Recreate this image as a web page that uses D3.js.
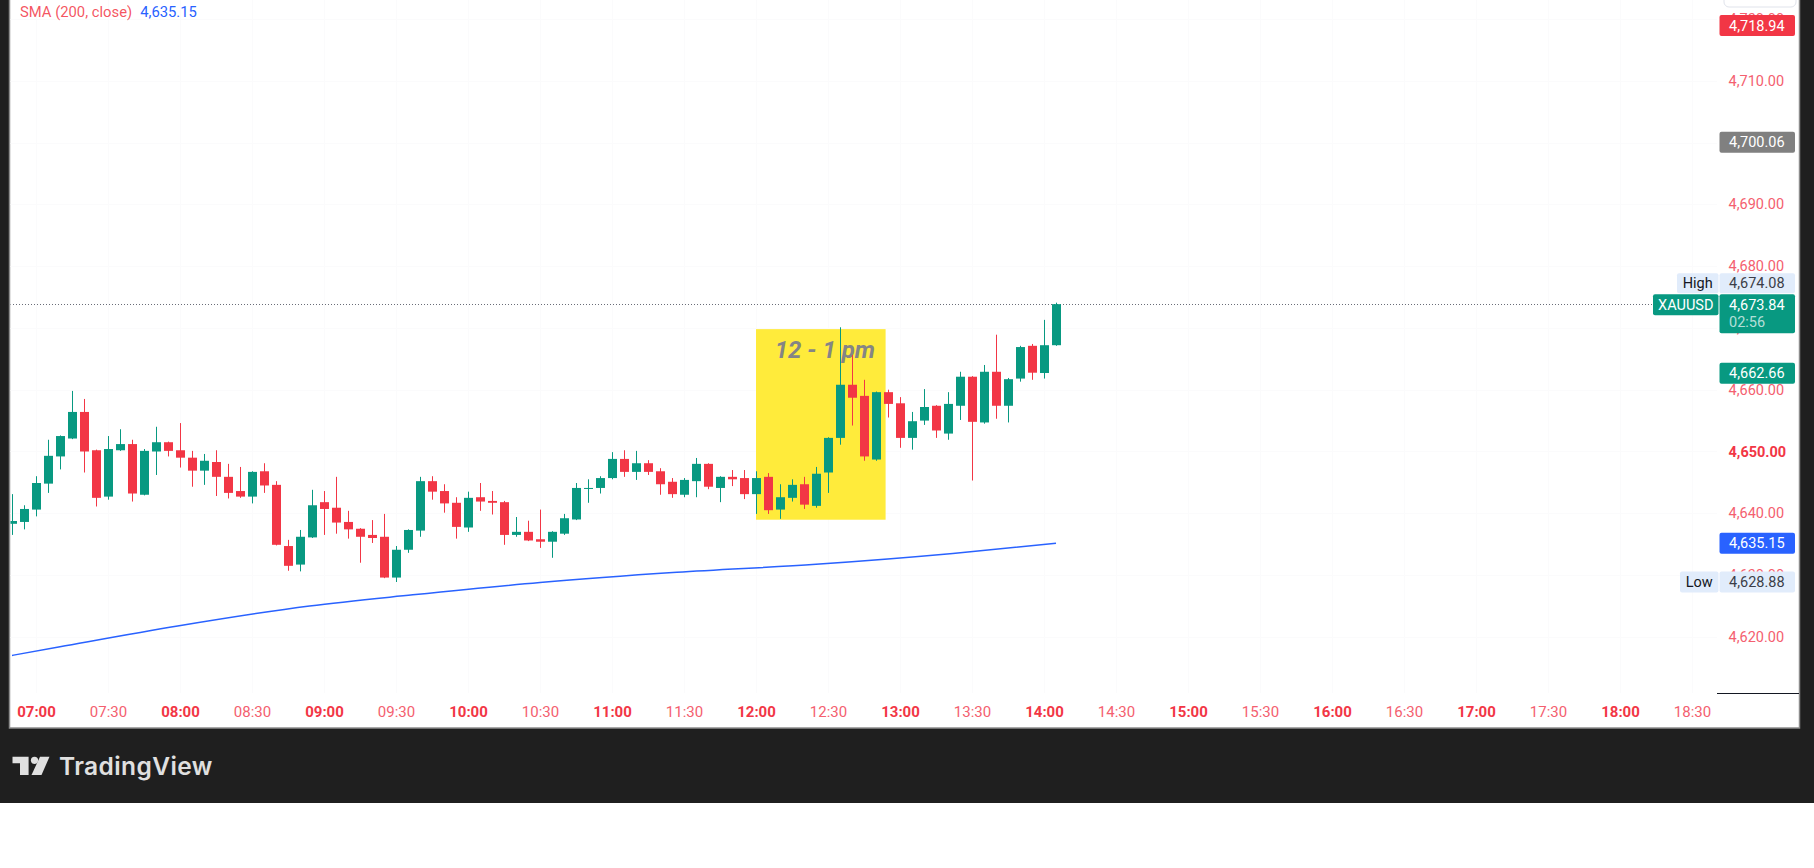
<!DOCTYPE html>
<html>
<head>
<meta charset="utf-8">
<script src="https://cdn.jsdelivr.net/npm/d3@7"></script>
<style>
  html, body { margin: 0; padding: 0; background: #ffffff; }
  svg { display: block; }
</style>
</head>
<body>
<div id="chart"></div>
<script>
// 5 minute XAUUSD candles
var times = ["06:50","06:55","07:00","07:05","07:10","07:15","07:20","07:25","07:30","07:35","07:40","07:45",
  "07:50","07:55","08:00","08:05","08:10","08:15","08:20","08:25","08:30","08:35","08:40","08:45",
  "08:50","08:55","09:00","09:05","09:10","09:15","09:20","09:25","09:30","09:35","09:40","09:45",
  "09:50","09:55","10:00","10:05","10:10","10:15","10:20","10:25","10:30","10:35","10:40","10:45",
  "10:50","10:55","11:00","11:05","11:10","11:15","11:20","11:25","11:30","11:35","11:40","11:45",
  "11:50","11:55","12:00","12:05","12:10","12:15","12:20","12:25","12:30","12:35","12:40","12:45",
  "12:50","12:55","13:00","13:05","13:10","13:15","13:20","13:25","13:30","13:35","13:40","13:45",
  "13:50","13:55","14:00","14:05"];

var opens = [4638.3,4638.6,4640.6,4644.8,4649.2,4652.1,4656.4,4650.2,4642.7,4650.2,4651.2,4643.0,
  4650.0,4651.5,4650.2,4649.0,4646.9,4648.3,4645.9,4643.6,4642.7,4646.8,4644.6,4634.7,
  4631.7,4636.1,4641.8,4640.9,4638.6,4637.5,4636.5,4636.2,4629.6,4634.1,4637.2,4645.2,
  4643.6,4641.7,4637.7,4642.6,4642.0,4641.8,4636.5,4637.0,4635.8,4635.4,4636.7,4639.0,
  4644.0,4644.1,4645.7,4648.8,4646.7,4648.1,4646.8,4645.1,4643.0,4645.2,4648.0,4644.1,
  4645.9,4645.7,4643.1,4645.9,4640.6,4642.5,4644.7,4641.2,4646.6,4652.2,4660.8,4659.0,
  4648.7,4659.6,4657.8,4652.2,4655.0,4657.4,4652.9,4657.4,4662.1,4654.7,4662.9,4657.4,
  4661.8,4667.1,4662.7,4667.2];

var highs = [4643.1,4641.3,4646.0,4651.9,4652.6,4659.8,4658.5,4650.3,4652.5,4653.6,4651.9,4650.4,
  4654.0,4651.6,4654.6,4650.1,4649.6,4650.2,4648.0,4647.5,4646.8,4648.1,4645.2,4635.7,
  4637.3,4643.8,4643.6,4645.9,4640.4,4637.6,4638.9,4639.9,4634.7,4637.4,4645.9,4646.0,
  4644.7,4642.6,4643.5,4644.9,4643.6,4642.0,4639.4,4638.8,4640.6,4637.1,4639.9,4644.9,
  4645.5,4646.0,4649.9,4650.2,4650.1,4648.6,4647.3,4645.7,4645.7,4648.95,4648.1,4646.0,
  4647.0,4647.0,4646.8,4646.5,4644.7,4645.5,4645.9,4647.5,4652.3,4670.1,4665.6,4661.6,
  4659.7,4660.0,4658.8,4656.4,4660.1,4657.5,4659.6,4662.9,4662.2,4664.0,4668.9,4661.9,
  4667.1,4667.4,4671.3,4674.08];

var lows = [4636.5,4637.4,4639.5,4643.3,4647.1,4652.0,4646.6,4641.1,4642.2,4650.1,4641.9,4642.9,
  4646.2,4649.2,4647.4,4644.3,4644.6,4642.8,4642.4,4642.5,4641.6,4643.3,4634.8,4630.7,
  4630.6,4636.0,4636.5,4636.7,4635.9,4632.0,4635.2,4629.5,4628.88,4633.6,4636.2,4642.2,
  4640.1,4635.9,4637.0,4640.4,4639.8,4634.9,4636.2,4635.5,4634.4,4632.8,4636.5,4638.9,
  4641.7,4643.2,4645.5,4645.9,4645.4,4646.2,4643.0,4642.5,4642.6,4642.6,4643.9,4641.8,
  4644.4,4642.3,4639.9,4639.9,4639.1,4641.9,4640.7,4640.9,4643.3,4651.1,4654.2,4648.5,
  4648.5,4655.5,4650.6,4650.3,4654.3,4652.2,4651.9,4655.1,4645.3,4654.5,4655.3,4654.7,
  4661.3,4661.6,4661.8,4667.1];

var closes = [4638.75,4640.7,4644.9,4649.3,4652.5,4656.4,4650.0,4642.5,4650.4,4651.2,4643.2,4650.1,
  4651.5,4650.1,4649.0,4646.9,4648.5,4645.9,4643.3,4642.7,4646.7,4644.5,4634.9,4631.5,
  4636.2,4641.3,4640.7,4638.5,4637.4,4636.2,4636.0,4629.6,4634.1,4637.3,4645.2,4643.5,
  4641.6,4637.8,4642.5,4641.9,4641.7,4636.5,4637.0,4635.6,4635.4,4637.0,4639.2,4644.1,
  4644.1,4645.7,4648.8,4646.7,4648.1,4646.7,4644.7,4643.1,4645.4,4648.0,4644.3,4645.9,
  4645.5,4643.1,4645.7,4640.5,4642.6,4644.6,4641.4,4646.4,4652.2,4660.8,4658.7,4649.2,
  4659.6,4657.7,4652.2,4654.9,4657.2,4653.4,4657.7,4662.1,4654.8,4662.9,4657.4,4661.7,
  4666.9,4662.75,4667.2,4673.84];

// SMA (200, close) read at a few places along the line
var smaTimes = ["06:50","07:10","07:59","08:54","09:37","10:30","11:27","12:25","13:22","14:05"];
var smaValues = [4617.0,4618.4,4621.76,4625.0,4626.8,4628.8,4630.45,4631.75,4633.5,4635.15];

var priceTicks = [4620,4630,4640,4650,4660,4670,4680,4690,4700,4710,4720];
var timeTicks = ["07:00","07:30","08:00","08:30","09:00","09:30","10:00","10:30","11:00","11:30",
  "12:00","12:30","13:00","13:30","14:00","14:30","15:00","15:30","16:00","16:30","17:00","17:30","18:00","18:30"];

// highlighted lunch hour
var boxStart = "12:00", boxEnd = "12:54", boxLow = 4638.96, boxHigh = 4669.8;
var boxText = "12 - 1 pm";

var lastPrice = 4673.84, countdown = "02:56", symbol = "XAUUSD";
var dayHigh = 4674.08, dayLow = 4628.88;
var smaLast = 4635.15;
var plainLabels = [
  {value: 4718.94, color: "#f23645"},
  {value: 4700.06, color: "#808080"},
  {value: 4662.66, color: "#089981"},
  {value: 4635.15, color: "#2962ff"}
];

var svgWidth = 1814;
var svgHeight = 868;
var green = "#089981", red = "#f23645";
var fontFam = "Roboto, 'Noto Sans', sans-serif";

var parseTime = d3.timeParse("%H:%M:%S");
var t = function(s) { return parseTime(s.length === 5 ? s + ":00" : s); };
var fmt = d3.format(",.2f");

var plot = {left: 10, right: 1717, top: 0, bottom: 693};
var boxX = 1719.5, boxW = 75.5, textX = 1729;

var x = d3.scaleTime()
  .domain([t("06:49:10"), t("18:40:00")])
  .range([plot.left, 1716]);

var y = d3.scaleLinear()
  .domain([4610.92, 4723.06])
  .range([plot.bottom, plot.top]);

var svg = d3.select("#chart").append("svg")
  .attr("width", svgWidth)
  .attr("height", svgHeight);

// dark frame + white panel
svg.append("rect").attr("x", 0).attr("y", 0).attr("width", svgWidth).attr("height", 803).attr("fill", "#1f1f1f");
svg.append("rect").attr("x", 9.5).attr("y", -2).attr("width", 1790).attr("height", 730)
  .attr("fill", "#ffffff").attr("stroke", "#8c8c8c").attr("stroke-width", 1.5);

svg.append("defs").append("clipPath").attr("id", "plotclip")
  .append("rect").attr("x", 10.5).attr("y", 0).attr("width", plot.right - 10.5).attr("height", plot.bottom);

// very faint grid
var grid = svg.append("g").attr("clip-path", "url(#plotclip)");
grid.selectAll(".hg").data(priceTicks).enter().append("line")
  .attr("x1", plot.left).attr("x2", plot.right)
  .attr("y1", d => Math.round(y(d)) + 0.5).attr("y2", d => Math.round(y(d)) + 0.5)
  .attr("stroke", "#fbfbfc");
grid.selectAll(".vg").data(timeTicks).enter().append("line")
  .attr("y1", 0).attr("y2", plot.bottom)
  .attr("x1", d => Math.round(x(t(d))) + 0.5).attr("x2", d => Math.round(x(t(d))) + 0.5)
  .attr("stroke", "#fbfbfc");

var chartGroup = svg.append("g").attr("clip-path", "url(#plotclip)");

// yellow box
chartGroup.append("rect")
  .attr("x", x(t(boxStart)))
  .attr("y", y(boxHigh))
  .attr("width", x(t(boxEnd)) - x(t(boxStart)))
  .attr("height", y(boxLow) - y(boxHigh))
  .attr("fill", "#ffeb3b");

chartGroup.append("text")
  .attr("x", (x(t(boxStart)) + x(t(boxEnd))) / 2 + 4)
  .attr("y", y(boxHigh) + 29)
  .attr("text-anchor", "middle")
  .attr("font-family", fontFam)
  .attr("font-size", "24px")
  .attr("font-weight", "bold")
  .attr("font-style", "italic")
  .attr("fill", "#858585")
  .text(boxText);

// SMA line
var smaLine = d3.line()
  .curve(d3.curveMonotoneX)
  .x(d => x(t(d[0])))
  .y(d => y(d[1]));
chartGroup.append("path")
  .datum(d3.zip(smaTimes, smaValues))
  .attr("d", smaLine)
  .attr("fill", "none")
  .attr("stroke", "#2962ff")
  .attr("stroke-width", 1.5);

// last price dotted line
chartGroup.append("line")
  .attr("x1", plot.left).attr("x2", 1653)
  .attr("y1", Math.round(y(lastPrice)) + 0.5).attr("y2", Math.round(y(lastPrice)) + 0.5)
  .attr("stroke", "#6a6d78")
  .attr("stroke-width", 1)
  .attr("stroke-dasharray", "1 2");

// candles
var candles = times.map(function(s, i) {
  return {time: t(s), open: opens[i], high: highs[i], low: lows[i], close: closes[i]};
});

var candleGroup = chartGroup.selectAll(".candle")
  .data(candles)
  .enter()
  .append("g");

candleGroup.append("line")
  .attr("x1", d => Math.round(x(d.time)) + 0.5)
  .attr("x2", d => Math.round(x(d.time)) + 0.5)
  .attr("y1", d => y(d.high))
  .attr("y2", d => y(d.low))
  .attr("stroke", d => d.close >= d.open ? green : red)
  .attr("stroke-width", 1);

candleGroup.append("rect")
  .attr("x", d => Math.round(x(d.time)) - 4)
  .attr("width", 9)
  .attr("y", d => y(Math.max(d.open, d.close)))
  .attr("height", d => Math.max(1, Math.abs(y(d.open) - y(d.close))))
  .attr("fill", d => d.close >= d.open ? green : red);

// time axis
var bottomAxis = d3.axisBottom(x)
  .tickValues(timeTicks.map(t))
  .tickSize(0)
  .tickPadding(13)
  .tickFormat(d3.timeFormat("%H:%M"));

var xAxis = svg.append("g")
  .attr("transform", `translate(0, ${plot.bottom})`)
  .call(bottomAxis);
xAxis.select(".domain").remove();
xAxis.selectAll("text")
  .attr("font-family", fontFam)
  .attr("font-size", "15px")
  .attr("font-weight", d => d.getMinutes() === 0 ? "bold" : "normal")
  .attr("fill", d => d.getMinutes() === 0 ? red : "#f4606f");

// price axis
svg.append("line")
  .attr("x1", plot.right).attr("x2", 1799)
  .attr("y1", plot.bottom + 0.5).attr("y2", plot.bottom + 0.5)
  .attr("stroke", "#131722");

svg.append("rect")
  .attr("x", 1724).attr("y", -14).attr("width", 72).attr("height", 21).attr("rx", 5)
  .attr("fill", "#ffffff").attr("stroke", "#e0e3eb");

var rightAxis = d3.axisRight(y)
  .tickValues(priceTicks)
  .tickSize(0)
  .tickPadding(0)
  .tickFormat(fmt);

var yAxis = svg.append("g")
  .attr("transform", `translate(${textX - 0.5}, 0)`)
  .call(rightAxis);
yAxis.select(".domain").remove();
yAxis.selectAll("text")
  .attr("font-family", fontFam)
  .attr("font-size", "14.5px")
  .attr("font-weight", d => d === 4650 ? "bold" : "normal")
  .attr("fill", d => d === 4650 ? red : "#f4606f");

// price labels on the axis
var labels = svg.append("g").attr("font-family", fontFam).attr("font-size", "14.5px");

function priceBox(cy, bg, fg, txt) {
  labels.append("rect")
    .attr("x", boxX).attr("y", cy - 10.5).attr("width", boxW).attr("height", 21).attr("rx", 2)
    .attr("fill", bg);
  labels.append("text")
    .attr("x", textX).attr("y", cy).attr("dy", "0.35em")
    .attr("fill", fg)
    .text(txt);
}

function tag(x0, cy, h, bg, fg, txt) {
  labels.append("rect").attr("x", x0).attr("y", cy - h / 2).attr("width", boxX - 1 - x0).attr("height", h).attr("rx", 2).attr("fill", bg);
  labels.append("text").attr("x", (x0 + boxX - 1) / 2).attr("y", cy).attr("dy", "0.35em").attr("text-anchor", "middle").attr("fill", fg).text(txt);
}

plainLabels.forEach(function(l) {
  priceBox(y(l.value), l.color, "#ffffff", fmt(l.value));
});

// low
var lowY = y(dayLow);
tag(1680, lowY, 21, "#e1ecfb", "#131722", "Low");
priceBox(lowY, "#e1ecfb", "#3b3e48", fmt(dayLow));

// last price with countdown
var lastY = y(lastPrice);
tag(1653, lastY + 0.5, 21, green, "#ffffff", symbol);
labels.append("rect").attr("x", boxX).attr("y", lastY - 10).attr("width", boxW).attr("height", 39).attr("rx", 2).attr("fill", green);
labels.append("text").attr("x", textX).attr("y", lastY + 0.5).attr("dy", "0.35em").attr("fill", "#ffffff").text(fmt(lastPrice));
labels.append("text").attr("x", textX).attr("y", lastY + 18).attr("dy", "0.35em").attr("fill", "#ffffff").attr("fill-opacity", 0.7).text(countdown);

// high is stacked above the last price label
var highY = lastY - 10 - 1 - 10;
tag(1677, highY, 20, "#e1ecfb", "#131722", "High");
labels.append("rect").attr("x", boxX).attr("y", highY - 10).attr("width", boxW).attr("height", 20).attr("rx", 2).attr("fill", "#e1ecfb");
labels.append("text").attr("x", textX).attr("y", highY).attr("dy", "0.35em").attr("fill", "#3b3e48").text(fmt(dayHigh));

// indicator legend
var legend = svg.append("text")
  .attr("x", 20).attr("y", 16.5)
  .attr("font-family", fontFam)
  .attr("font-size", "14.8px");
legend.append("tspan").attr("fill", "#f23645").attr("fill-opacity", 0.85).text("SMA (200, close)");
legend.append("tspan").attr("dx", 8).attr("fill", "#2962ff").text(fmt(smaLast));

// TradingView logo
var logo = svg.append("g").attr("fill", "#e0e0e0");
logo.append("path").attr("d", "M12.5,756.7 H28.6 V775 H20 V763.3 H12.5 Z");
logo.append("circle").attr("cx", 34.5).attr("cy", 760.3).attr("r", 3.6);
logo.append("path").attr("d", "M40,756.7 H49.5 L41.5,775 H31.5 Z");
svg.append("text")
  .attr("x", 59).attr("y", 774.5)
  .attr("font-family", "Inter, Lato, sans-serif")
  .attr("font-size", "24.5px")
  .attr("font-weight", 600)
  .attr("fill", "#e0e0e0")
  .attr("letter-spacing", "0.4")
  .text("TradingView");
</script>
</body>
</html>
